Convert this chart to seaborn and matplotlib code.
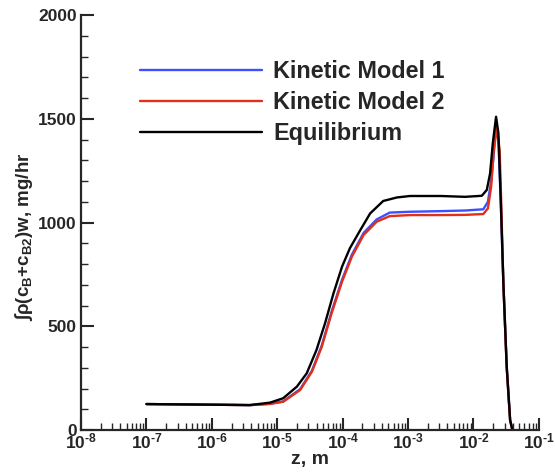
import numpy as np
import pandas as pd
import matplotlib
matplotlib.use("Agg")
import matplotlib.pyplot as plt
import matplotlib.ticker as mticker
import seaborn as sns

# Axial position given as log10(z / m), integrated B-species flux in mg/hr
logz_eq = [-7.0, -6.0, -5.42, -5.11, -4.91, -4.70, -4.55, -4.40, -4.27, -4.14,
           -4.01, -3.89, -3.73, -3.58, -3.38, -3.17, -2.97, -2.50, -2.13,
           -1.873, -1.797, -1.746, -1.705, -1.655, -1.619, -1.583, -1.543,
           -1.492, -1.44, -1.405]
flux_eq = [125, 122, 120, 132, 153, 209, 273, 386, 514, 659,
           787, 876, 964, 1044, 1104, 1121, 1128, 1128, 1124,
           1129, 1157, 1237, 1382, 1510, 1430, 1108, 707,
           305, 48, 0]

logz_k1 = [-7.0, -6.0, -5.42, -5.11, -4.91, -4.65, -4.47, -4.32, -4.17, -4.01,
           -3.86, -3.68, -3.48, -3.28, -2.97, -2.50, -2.13,
           -1.85, -1.78, -1.73, -1.69, -1.655, -1.62, -1.583, -1.543,
           -1.492, -1.44, -1.405]
flux_k1 = [125, 122, 120, 126, 138, 197, 286, 407, 570, 724,
           845, 950, 1015, 1048, 1052, 1055, 1058,
           1064, 1100, 1200, 1330, 1481, 1400, 1100, 705,
           305, 48, 0]

logz_k2 = [-7.0, -6.0, -5.42, -5.11, -4.91, -4.65, -4.47, -4.32, -4.17, -4.01,
           -3.86, -3.68, -3.48, -3.28, -2.97, -2.50, -2.13,
           -1.85, -1.78, -1.73, -1.69, -1.644, -1.60, -1.575, -1.543,
           -1.492, -1.44, -1.405]
flux_k2 = [125, 122, 120, 126, 136, 193, 281, 401, 562, 715,
           835, 940, 1004, 1031, 1036, 1036, 1037,
           1041, 1068, 1173, 1349, 1454, 1349, 1080, 700,
           300, 45, 0]

series_names = ["Kinetic Model 1", "Kinetic Model 2", "Equilibrium"]
series_colors = ["#3c50ff", "#e0301a", "#000000"]

df = pd.concat([
    pd.DataFrame({"z": 10.0 ** np.array(logz_k1), "flux": flux_k1, "model": series_names[0]}),
    pd.DataFrame({"z": 10.0 ** np.array(logz_k2), "flux": flux_k2, "model": series_names[1]}),
    pd.DataFrame({"z": 10.0 ** np.array(logz_eq), "flux": flux_eq, "model": series_names[2]}),
])

sns.set_style("ticks")
plt.rcParams["font.family"] = ["Liberation Sans", "DejaVu Sans"]
plt.rcParams["font.weight"] = "bold"
plt.rcParams["mathtext.fontset"] = "custom"
plt.rcParams["mathtext.rm"] = "Liberation Sans:bold"
plt.rcParams["mathtext.bf"] = "Liberation Sans:bold"
plt.rcParams["mathtext.it"] = "Liberation Sans"
plt.rcParams["mathtext.default"] = "rm"

fig = plt.figure(figsize=(5.55, 4.72), dpi=100)
ax = fig.add_axes([0.146, 0.089, 0.825, 0.879])

sns.lineplot(data=df, x="z", y="flux", hue="model", hue_order=series_names,
             palette=dict(zip(series_names, series_colors)), estimator=None,
             sort=False, linewidth=1.7, ax=ax)

ax.set_xscale("log")
ax.set_xlim(1e-8, 1e-1)
ax.set_ylim(0, 2000)

ax.xaxis.set_major_locator(mticker.LogLocator(base=10, numticks=20))
ax.xaxis.set_minor_locator(mticker.LogLocator(base=10, subs=np.arange(2, 10), numticks=20))
ax.xaxis.set_major_formatter(mticker.FuncFormatter(
    lambda v, p: "$10^{\\text{-%d}}$" % int(round(-np.log10(v)))))
ax.xaxis.set_minor_formatter(mticker.NullFormatter())
ax.yaxis.set_major_locator(mticker.MultipleLocator(500))
ax.yaxis.set_minor_locator(mticker.MultipleLocator(100))

ax.tick_params(axis="both", which="major", direction="in", length=9, width=1.5)
ax.tick_params(axis="both", which="minor", direction="in", length=5, width=1.0)
ax.tick_params(axis="x", labelsize=12.5, pad=1)
ax.tick_params(axis="y", labelsize=12.5, pad=3)

for side in ["top", "right"]:
    ax.spines[side].set_visible(False)
for side in ["left", "bottom"]:
    ax.spines[side].set_linewidth(1.6)

ax.set_xlabel("z, m", fontsize=14, fontweight="bold", labelpad=0)
ax.set_ylabel("$\\mathit{∫ρ}$(c$_\\mathregular{B}$+c$_\\mathregular{B2}$)w, mg/hr",
              fontsize=13.5, fontweight="bold")
ax.yaxis.set_label_coords(-0.101, 0.465)

leg = ax.legend(loc="upper left", bbox_to_anchor=(0.0935, 0.931), frameon=False,
                handlelength=5.2, handletextpad=0.5, labelspacing=0.35,
                borderaxespad=0.3, prop={"weight": "bold", "size": 16.8})
for line in leg.get_lines():
    line.set_linewidth(1.7)

fig.savefig("out.png", dpi=100)
